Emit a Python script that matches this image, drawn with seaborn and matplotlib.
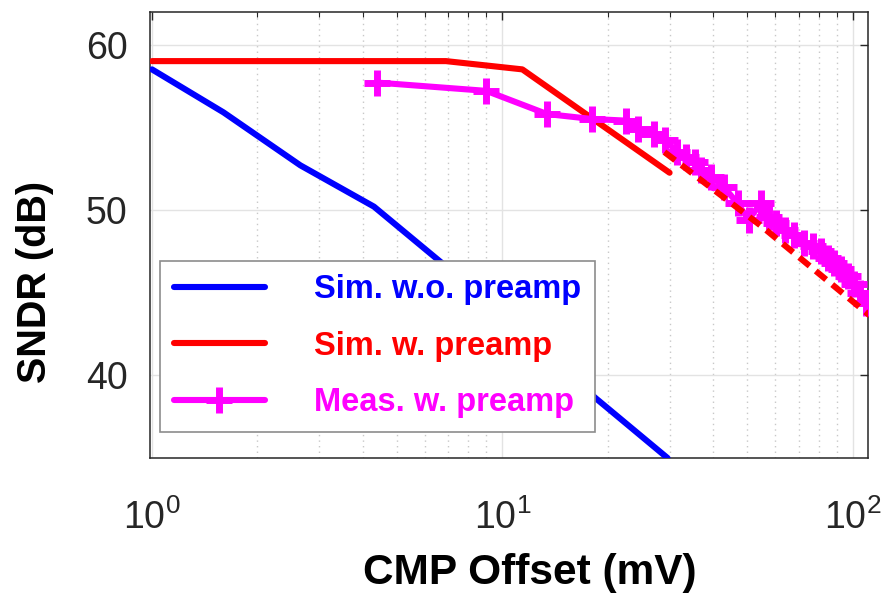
import numpy as np
import pandas as pd
import matplotlib
matplotlib.use("Agg")
import matplotlib.pyplot as plt
from matplotlib.ticker import LogLocator, FixedLocator
import seaborn as sns

# ---- data ----
sim_wo_x = [1.0, 1.6, 2.65, 4.3, 6.8, 11.0, 18.5, 29.6]
sim_wo_y = [58.5, 55.9, 52.7, 50.2, 46.7, 42.8, 38.6, 35.0]

sim_w_x = [1.0, 6.9, 11.4, 30.0]
sim_w_y = [59.0, 59.0, 58.5, 52.25]

sim_w_ext_x = [29.0, 55.0, 112.0]
sim_w_ext_y = [53.5, 49.0, 43.6]

meas_x = [4.4, 9.0, 13.4, 18.0, 22.6, 24.3, 27.1, 29.2, 31.6, 33.5, 35.5, 36.8,
          39.5, 42.8, 46.9, 50.4, 54.6, 57.5, 60.3, 64.0, 68.0, 72.7, 77.0, 81.0,
          85.0, 88.4, 92.5, 96.8, 101.0, 105.0, 109.0]
meas_y = [57.7, 57.2, 55.8, 55.5, 55.4, 54.9, 54.6, 54.2, 53.5, 53.2, 52.9, 52.4,
          52.0, 51.4, 50.4, 49.4, 50.4, 49.6, 49.2, 48.8, 48.5, 48.0, 47.8, 47.5,
          47.1, 46.8, 46.4, 46.0, 45.5, 45.0, 44.4]

labels = ["Sim. w.o. preamp", "Sim. w. preamp", "Meas. w. preamp"]
colors = ["#0000ff", "#ff0000", "#ff00ff"]
y_ticks = [40, 50, 60]
x_ticks = [1, 10, 100]

sns.set_theme(style="white")
plt.rcParams['font.family'] = ['Liberation Sans', 'DejaVu Sans']
plt.rcParams['mathtext.fontset'] = 'custom'
plt.rcParams['mathtext.rm'] = 'Liberation Sans'
plt.rcParams['mathtext.it'] = 'Liberation Sans'
plt.rcParams['mathtext.default'] = 'regular'

fig = plt.figure(figsize=(8.95, 5.98), dpi=100)
ax = fig.add_axes([150/895, 1-458/598, 718/895, 446.5/598])

lw = 4.4
df_wo = pd.DataFrame({"x": sim_wo_x, "y": sim_wo_y})
df_w = pd.DataFrame({"x": sim_w_x, "y": sim_w_y})
df_ext = pd.DataFrame({"x": sim_w_ext_x, "y": sim_w_ext_y})
df_m = pd.DataFrame({"x": meas_x, "y": meas_y})

sns.lineplot(data=df_wo, x="x", y="y", ax=ax, color=colors[0], lw=lw,
             sort=False, estimator=None, legend=False, label=labels[0], zorder=3)
l_wo = ax.lines[-1]
sns.lineplot(data=df_w, x="x", y="y", ax=ax, color=colors[1], lw=lw,
             sort=False, estimator=None, legend=False, label=labels[1], zorder=3)
l_w = ax.lines[-1]
sns.lineplot(data=df_m, x="x", y="y", ax=ax, color=colors[2], lw=lw,
             sort=False, estimator=None, legend=False, label=labels[2], zorder=4)
l_m = ax.lines[-1]
sns.lineplot(data=df_ext, x="x", y="y", ax=ax, color=colors[1], lw=lw,
             sort=False, estimator=None, legend=False, label="_nolegend_", zorder=5)
l_ext = ax.lines[-1]

for ln in (l_wo, l_w, l_m):
    ln.set_linestyle("-")
l_m.set_marker("+")
l_m.set_markersize(19)
l_m.set_markeredgewidth(5)
l_m.set_markeredgecolor(colors[2])
l_ext.set_linestyle((0, (2.2, 1.3)))

ax.set_xscale("log")
ax.set_xlim(0.987, 110.5)
ax.set_ylim(35, 62)
ax.xaxis.set_major_locator(FixedLocator(x_ticks))
ax.xaxis.set_minor_locator(LogLocator(base=10, subs=np.arange(2, 10)))
ax.yaxis.set_major_locator(FixedLocator(y_ticks))

ax.grid(True, which="major", axis="both", color="#e3e3e3", lw=1.0, ls="-")
ax.grid(True, which="minor", axis="x", color="#c8c8c8", lw=1.0, ls=(0, (1, 3)))
ax.set_axisbelow(True)

for s in ax.spines.values():
    s.set_color("#262626")
    s.set_linewidth(1.1)
    s.set_visible(True)

ax.tick_params(which="both", direction="in", top=True, right=True,
               color="#262626", labelcolor="#262626")
ax.tick_params(which="major", length=6, width=1.0, labelsize=27)
ax.tick_params(axis="y", which="major", pad=16)
ax.tick_params(axis="x", which="major", pad=30)
ax.tick_params(which="minor", length=3.5, width=0.8)

ax.set_xlabel("CMP Offset (mV)", fontsize=30.5, fontweight="bold", color="black")
ax.set_ylabel("SNDR (dB)", fontsize=28.5, fontweight="bold", color="black")
ax.xaxis.set_label_coords(0.529, -0.212)
ax.yaxis.set_label_coords(-0.134, 0.395)

leg = ax.legend(handles=[l_wo, l_w, l_m], labels=labels,
                loc="lower left", bbox_to_anchor=(0.0139, 0.0582), borderaxespad=0,
                prop={"weight": "bold", "size": 23.5},
                handlelength=2.8, handletextpad=1.5, labelspacing=0.78,
                borderpad=0.42, fancybox=False, framealpha=1, edgecolor="#8c8c8c")
leg.get_frame().set_linewidth(1.2)
for t, c in zip(leg.get_texts(), colors):
    t.set_color(c)

fig.savefig("out.png", dpi=100)
